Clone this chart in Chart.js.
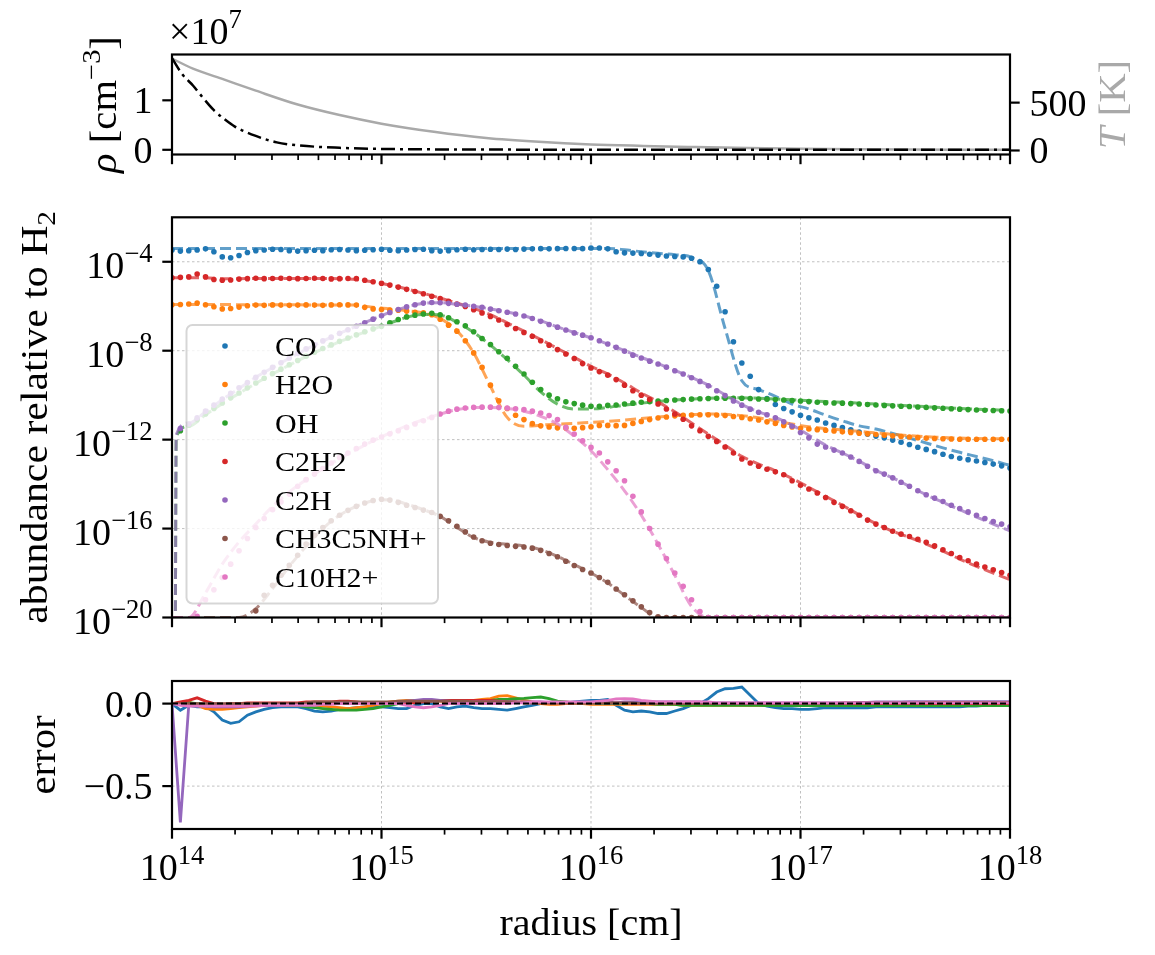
<!DOCTYPE html>
<html>
<head>
<meta charset="utf-8">
<script src="https://cdn.jsdelivr.net/npm/chart.js@4.4.1/dist/chart.umd.min.js"></script>
<style>
  body { margin: 0; background: #fff; width: 1155px; height: 955px; overflow: hidden; position: relative; }
  canvas { position: absolute; left: 0; }
</style>
</head>
<body>
<canvas id="topChart" width="1155" height="190" style="top:0px"></canvas>
<canvas id="midChart" width="1155" height="460" style="top:190px"></canvas>
<canvas id="botChart" width="1155" height="305" style="top:650px"></canvas>
<script>
// rayon (log10 cm) de la grille des abondances et des erreurs
const logR = [
  14.00,14.04,14.08,14.12,14.16,14.20,14.24,14.28,14.32,14.36,
  14.40,14.44,14.48,14.52,14.56,14.60,14.64,14.68,14.72,14.76,
  14.80,14.84,14.88,14.92,14.96,15.00,15.04,15.08,15.12,15.16,
  15.20,15.24,15.28,15.32,15.36,15.40,15.44,15.48,15.52,15.56,
  15.60,15.64,15.68,15.72,15.76,15.80,15.84,15.88,15.92,15.96,
  16.00,16.04,16.08,16.12,16.16,16.20,16.24,16.28,16.32,16.36,
  16.40,16.44,16.48,16.52,16.56,16.60,16.64,16.68,16.72,16.76,
  16.80,16.84,16.88,16.92,16.96,17.00,17.04,17.08,17.12,17.16,
  17.20,17.24,17.28,17.32,17.36,17.40,17.44,17.48,17.52,17.56,
  17.60,17.64,17.68,17.72,17.76,17.80,17.84,17.88,17.92,17.96,
  18.00
];
// rayon (log10 cm) des courbes du modele (tirets)
const modelLogR = [
  14.00,14.015,14.02,14.08,14.16,14.24,14.32,14.40,14.48,14.56,14.64,
  14.72,14.80,14.88,14.96,15.04,15.12,15.20,15.28,15.36,15.44,
  15.52,15.60,15.68,15.76,15.84,15.92,16.00,16.08,16.16,16.24,
  16.32,16.40,16.48,16.56,16.64,16.72,16.80,16.88,16.96,17.04,
  17.12,17.20,17.28,17.36,17.44,17.52,17.60,17.68,17.76,17.84,
  17.92,18.00
];

const species = ['CO', 'H2O', 'OH', 'C2H2', 'C2H', 'CH3C5NH+', 'C10H2+'];
const colors = ['#1f77b4', '#ff7f0e', '#2ca02c', '#d62728', '#9467bd', '#8c564b', '#e377c2'];

// abondances mesurees (log10), points
const abundCO = [
  -3.47,-3.52,-3.50,-3.47,-3.42,-3.55,-3.78,-3.82,-3.72,-3.58,
  -3.50,-3.47,-3.44,-3.45,-3.50,-3.52,-3.50,-3.48,-3.50,-3.46,
  -3.45,-3.47,-3.50,-3.48,-3.46,-3.44,-3.48,-3.50,-3.47,-3.45,
  -3.44,-3.50,-3.52,-3.50,-3.46,-3.44,-3.46,-3.45,-3.44,-3.45,
  -3.43,-3.45,-3.43,-3.42,-3.41,-3.42,-3.41,-3.40,-3.40,-3.41,
  -3.38,-3.38,-3.42,-3.55,-3.60,-3.61,-3.63,-3.66,-3.70,-3.74,
  -3.76,-3.78,-3.84,-4.00,-4.35,-5.10,-6.25,-7.60,-8.55,-9.15,
  -9.75,-10.15,-10.42,-10.60,-10.75,-10.90,-11.02,-11.12,-11.25,-11.36,
  -11.46,-11.56,-11.66,-11.76,-11.84,-11.92,-12.02,-12.12,-12.22,-12.34,
  -12.44,-12.54,-12.66,-12.76,-12.84,-12.90,-12.96,-13.03,-13.10,-13.18,
  -13.28
];
const abundH2O = [
  -5.93,-5.92,-5.90,-5.86,-5.93,-6.02,-6.12,-6.10,-6.04,-5.98,
  -5.95,-5.96,-5.94,-5.95,-5.96,-5.95,-5.94,-5.95,-5.96,-5.94,
  -5.93,-5.94,-5.95,-6.05,-6.12,-6.15,-6.17,-6.18,-6.22,-6.27,
  -6.30,-6.38,-6.58,-6.85,-7.12,-7.55,-8.10,-8.75,-9.55,-10.25,
  -10.60,-10.90,-11.10,-11.28,-11.38,-11.43,-11.47,-11.48,-11.49,-11.46,
  -11.42,-11.36,-11.36,-11.37,-11.36,-11.27,-11.18,-11.10,-11.03,-10.98,
  -10.93,-10.91,-10.89,-10.88,-10.88,-10.89,-10.92,-10.96,-11.00,-11.06,
  -11.12,-11.20,-11.27,-11.36,-11.43,-11.49,-11.52,-11.55,-11.58,-11.61,
  -11.65,-11.68,-11.71,-11.74,-11.77,-11.80,-11.83,-11.86,-11.88,-11.91,
  -11.93,-11.95,-11.96,-11.97,-11.98,-11.98,-11.98,-11.98,-11.98,-11.98,
  -11.98
];
const abundOH = [
  null,-11.60,-11.35,-11.10,-10.85,-10.60,-10.35,-10.12,-9.90,-9.67,
  -9.45,-9.24,-9.03,-8.83,-8.63,-8.44,-8.25,-8.07,-7.90,-7.74,
  -7.58,-7.43,-7.29,-7.15,-7.02,-6.90,-6.75,-6.60,-6.48,-6.40,
  -6.35,-6.32,-6.38,-6.52,-6.70,-6.88,-7.15,-7.45,-7.72,-8.05,
  -8.34,-8.70,-9.05,-9.42,-9.75,-10.00,-10.16,-10.30,-10.38,-10.45,
  -10.50,-10.50,-10.46,-10.44,-10.40,-10.36,-10.32,-10.29,-10.26,-10.24,
  -10.22,-10.20,-10.18,-10.16,-10.15,-10.14,-10.14,-10.14,-10.14,-10.15,
  -10.17,-10.18,-10.20,-10.22,-10.24,-10.26,-10.29,-10.32,-10.34,-10.35,
  -10.36,-10.38,-10.40,-10.42,-10.44,-10.46,-10.48,-10.50,-10.51,-10.53,
  -10.55,-10.57,-10.59,-10.61,-10.63,-10.65,-10.67,-10.68,-10.69,-10.70,
  -10.71
];
const abundC2H2 = [
  -4.72,-4.70,-4.68,-4.55,-4.68,-4.80,-4.83,-4.82,-4.78,-4.76,
  -4.74,-4.76,-4.75,-4.74,-4.75,-4.76,-4.75,-4.74,-4.75,-4.77,
  -4.76,-4.75,-4.76,-4.83,-4.90,-4.97,-5.05,-5.14,-5.24,-5.34,
  -5.44,-5.55,-5.66,-5.78,-5.90,-6.01,-6.16,-6.30,-6.46,-6.62,
  -6.82,-7.00,-7.18,-7.35,-7.55,-7.75,-7.95,-8.15,-8.35,-8.58,
  -8.78,-8.94,-9.10,-9.30,-9.55,-9.80,-10.00,-10.20,-10.40,-10.62,
  -10.85,-11.08,-11.38,-11.60,-11.85,-12.08,-12.33,-12.60,-12.87,-13.05,
  -13.20,-13.33,-13.45,-13.58,-13.85,-14.05,-14.22,-14.40,-14.60,-14.82,
  -15.00,-15.20,-15.40,-15.62,-15.80,-15.95,-16.12,-16.25,-16.36,-16.48,
  -16.62,-16.78,-16.95,-17.12,-17.30,-17.45,-17.60,-17.73,-17.85,-17.98,
  -18.10
];
const abundC2H = [
  null,-11.50,-11.30,-11.02,-10.72,-10.45,-10.18,-9.92,-9.67,-9.43,
  -9.20,-8.97,-8.75,-8.54,-8.33,-8.12,-7.92,-7.74,-7.56,-7.39,
  -7.22,-7.06,-6.90,-6.74,-6.58,-6.43,-6.28,-6.15,-6.03,-5.93,
  -5.86,-5.83,-5.84,-5.87,-5.91,-5.95,-6.00,-6.05,-6.13,-6.20,
  -6.27,-6.35,-6.44,-6.55,-6.68,-6.82,-6.94,-7.07,-7.20,-7.30,
  -7.42,-7.55,-7.70,-7.85,-8.02,-8.20,-8.33,-8.47,-8.60,-8.74,
  -8.90,-9.05,-9.22,-9.38,-9.58,-9.80,-10.02,-10.26,-10.45,-10.63,
  -10.77,-10.88,-11.02,-11.20,-11.40,-11.68,-11.92,-12.20,-12.33,-12.47,
  -12.60,-12.78,-12.98,-13.20,-13.40,-13.55,-13.72,-13.92,-14.10,-14.30,
  -14.48,-14.63,-14.78,-14.95,-15.10,-15.25,-15.40,-15.55,-15.68,-15.80,
  -15.92
];
const abundCH3C5NH = [
  null,null,null,null,null,null,null,null,null,null,
  -19.70,-19.00,-18.55,-18.10,-17.65,-17.20,-16.70,-16.30,-15.95,-15.65,
  -15.40,-15.18,-15.00,-14.85,-14.74,-14.68,-14.72,-14.82,-14.95,-15.05,
  -15.17,-15.28,-15.45,-15.65,-15.90,-16.15,-16.38,-16.55,-16.66,-16.72,
  -16.76,-16.80,-16.83,-16.88,-16.98,-17.12,-17.27,-17.47,-17.66,-17.84,
  -18.00,-18.20,-18.42,-18.72,-18.98,-19.25,-19.52,-19.78,-19.97,-20,
  -20,-20,-20,-20,-20,-20,-20,-20,-20,-20,
  -20,-20,-20,-20,-20,-20,-20,-20,-20,-20,
  -20,-20,-20,-20,-20,-20,-20,-20,-20,-20,
  -20,-20,-20,-20,-20,-20,-20,-20,-20,-20,
  -20
];
const abundC10H2 = [
  null,null,null,-19.95,-19.20,-18.75,-18.20,-17.60,-17.00,-16.45,
  -15.95,-15.55,-15.15,-14.80,-14.45,-14.10,-13.80,-13.55,-13.30,-13.05,
  -12.80,-12.60,-12.40,-12.20,-12.02,-11.88,-11.74,-11.60,-11.45,-11.30,
  -11.15,-11.00,-10.85,-10.72,-10.63,-10.58,-10.55,-10.54,-10.54,-10.56,
  -10.58,-10.61,-10.65,-10.72,-10.80,-10.92,-11.10,-11.45,-11.75,-12.05,
  -12.35,-12.60,-13.00,-13.40,-13.85,-14.55,-15.25,-16.00,-16.70,-17.35,
  -18.00,-18.60,-19.20,-19.73,-20,-20,-20,-20,-20,-20,
  -20,-20,-20,-20,-20,-20,-20,-20,-20,-20,
  -20,-20,-20,-20,-20,-20,-20,-20,-20,-20,
  -20,-20,-20,-20,-20,-20,-20,-20,-20,-20,
  -20
];

// modele (log10), tirets
const modelCO = [
  -3.40,-3.40,-3.40,-3.40,-3.40,-3.40,-3.40,-3.40,-3.40,-3.40,-3.40,
  -3.40,-3.40,-3.40,-3.40,-3.40,-3.40,-3.40,-3.40,-3.40,-3.40,
  -3.40,-3.40,-3.40,-3.40,-3.40,-3.40,-3.40,-3.40,-3.46,-3.55,
  -3.62,-3.68,-3.80,-4.40,-7.00,-9.35,-9.75,-10.05,-10.40,-10.62,
  -10.90,-11.15,-11.38,-11.52,-11.72,-11.93,-12.15,-12.37,-12.57,-12.76,
  -12.95,-13.16
];
const modelH2O = [
  -5.92,-5.92,-5.92,-5.92,-5.92,-5.92,-5.93,-5.93,-5.93,-5.93,-5.94,
  -5.94,-5.94,-5.95,-6.05,-6.12,-6.20,-6.30,-6.55,-7.10,-8.10,
  -9.60,-11.00,-11.40,-11.35,-11.30,-11.27,-11.22,-11.18,-11.12,-11.05,
  -10.98,-10.92,-10.87,-10.85,-10.86,-10.92,-11.02,-11.15,-11.30,-11.42,
  -11.50,-11.57,-11.63,-11.70,-11.76,-11.82,-11.87,-11.90,-11.93,-11.95,
  -11.96,-11.97
];
const modelOH = [
  -21,-21,-11.90,-11.40,-10.88,-10.38,-9.92,-9.47,-9.05,-8.65,-8.27,
  -7.92,-7.60,-7.30,-7.03,-6.76,-6.50,-6.37,-6.40,-6.72,-7.18,
  -7.75,-8.40,-9.10,-9.85,-10.40,-10.62,-10.62,-10.55,-10.45,-10.36,
  -10.28,-10.22,-10.18,-10.14,-10.12,-10.12,-10.14,-10.17,-10.21,-10.25,
  -10.29,-10.32,-10.36,-10.40,-10.44,-10.48,-10.52,-10.56,-10.60,-10.63,
  -10.66,-10.69
];
const modelC2H2 = [
  -4.72,-4.72,-4.72,-4.72,-4.72,-4.76,-4.76,-4.75,-4.75,-4.75,-4.75,
  -4.75,-4.76,-4.80,-4.90,-5.05,-5.22,-5.42,-5.63,-5.86,-6.10,
  -6.38,-6.75,-7.12,-7.50,-7.90,-8.30,-8.70,-9.05,-9.45,-9.90,
  -10.30,-10.75,-11.25,-11.75,-12.25,-12.75,-13.10,-13.40,-13.75,-14.15,
  -14.55,-14.95,-15.38,-15.78,-16.12,-16.40,-16.70,-17.02,-17.37,-17.70,
  -18.00,-18.30
];
const modelC2H = [
  -21,-21,-11.80,-11.25,-10.75,-10.20,-9.70,-9.20,-8.76,-8.34,-7.94,
  -7.57,-7.22,-6.90,-6.58,-6.28,-6.03,-5.87,-5.84,-5.91,-6.00,
  -6.12,-6.26,-6.43,-6.66,-6.93,-7.18,-7.42,-7.70,-8.00,-8.30,
  -8.58,-8.88,-9.20,-9.55,-9.98,-10.42,-10.75,-11.00,-11.35,-11.80,
  -12.25,-12.60,-12.97,-13.38,-13.72,-14.10,-14.48,-14.82,-15.15,-15.48,
  -15.80,-16.10
];
const modelCH3C5NH = [
  -20,-20,-20,-20,-20,-20,-20,-19.60,-18.70,-17.70,-16.80,
  -16.00,-15.40,-15.00,-14.75,-14.70,-14.90,-15.15,-15.45,-15.95,-16.40,
  -16.62,-16.70,-16.78,-16.95,-17.25,-17.62,-18.00,-18.45,-19.00,-19.55,
  -20,-20,-20,-20,-20,-20,-20,-20,-20,-20,
  -20,-20,-20,-20,-20,-20,-20,-20,-20,-20,
  -20,-20
];
const modelC10H2 = [
  -20,-20,-20,-20,-18.90,-17.60,-16.60,-15.80,-15.00,-14.35,-13.80,
  -13.30,-12.85,-12.45,-12.05,-11.70,-11.38,-11.10,-10.85,-10.65,-10.56,
  -10.55,-10.60,-10.72,-10.95,-11.30,-11.85,-12.50,-13.35,-14.30,-15.40,
  -16.70,-18.10,-19.50,-20,-20,-20,-20,-20,-20,-20,
  -20,-20,-20,-20,-20,-20,-20,-20,-20,-20,
  -20,-20
];

// erreur relative (panneau du bas)
const errCO = [
  0,-0.04,-0.01,-0.02,-0.02,-0.05,-0.10,-0.12,-0.11,-0.07,
  -0.05,-0.035,-0.025,-0.02,-0.02,-0.02,-0.03,-0.045,-0.05,-0.045,
  -0.035,-0.03,-0.025,-0.02,-0.02,-0.02,-0.025,-0.03,-0.03,-0.01,
  0,0,-0.02,-0.03,-0.02,-0.015,-0.025,-0.03,-0.03,-0.035,
  -0.04,-0.03,-0.02,-0.01,0,0,0,0.005,0.01,0.015,
  0.02,0.02,0.025,-0.01,-0.04,-0.05,-0.045,-0.05,-0.06,-0.06,
  -0.045,-0.03,-0.01,0,0.03,0.07,0.09,0.092,0.10,0.05,
  0,-0.015,-0.025,-0.03,-0.03,-0.035,-0.035,-0.03,-0.025,-0.025,
  -0.025,-0.025,-0.025,-0.025,-0.02,-0.02,-0.02,-0.02,-0.02,-0.02,
  -0.02,-0.02,-0.02,-0.02,-0.02,-0.015,-0.015,-0.01,-0.01,-0.005,
  -0.005
];
const errH2O = [
  0,0.005,0.01,-0.01,-0.03,-0.035,-0.035,-0.03,-0.025,-0.02,
  -0.015,-0.01,-0.01,-0.01,-0.01,-0.01,-0.01,-0.01,-0.015,-0.02,
  -0.025,-0.03,-0.025,-0.02,-0.01,0,0.01,0.015,0.02,0.02,
  0.02,0.02,0.015,0.01,0.01,0.015,0.02,0.025,0.03,0.045,
  0.048,0.035,0.02,0.01,0,-0.005,-0.005,0,0,0,
  -0.005,-0.005,-0.005,-0.005,-0.005,-0.005,-0.005,-0.005,-0.005,-0.005,
  -0.005,-0.01,-0.01,-0.01,-0.01,-0.01,-0.01,-0.01,-0.01,-0.01,
  -0.01,-0.01,-0.01,-0.01,-0.01,-0.01,-0.005,-0.005,-0.005,-0.005,
  -0.005,-0.005,-0.005,-0.005,-0.005,-0.005,-0.005,-0.005,-0.005,-0.005,
  0,0,0,0,0,0,0,0,0,0,
  0
];
const errOH = [
  0,0,0.005,0,-0.005,-0.01,-0.01,-0.01,-0.01,-0.01,
  -0.01,-0.01,-0.01,-0.01,-0.01,-0.01,-0.02,-0.025,-0.03,-0.035,
  -0.04,-0.04,-0.04,-0.035,-0.03,-0.02,-0.01,0,0.01,0.015,
  0.02,0.02,0.02,0.02,0.015,0.01,0.015,0.02,0.02,0.025,
  0.025,0.03,0.032,0.036,0.04,0.03,0.015,0.01,0.005,0.005,
  0.005,0,0,0,0,0,0,0,-0.005,-0.005,
  -0.005,-0.01,-0.01,-0.01,-0.01,-0.01,-0.01,-0.01,-0.01,-0.01,
  -0.01,-0.012,-0.012,-0.012,-0.012,-0.012,-0.012,-0.012,-0.012,-0.012,
  -0.012,-0.012,-0.012,-0.012,-0.012,-0.012,-0.012,-0.012,-0.012,-0.012,
  -0.012,-0.012,-0.012,-0.012,-0.012,-0.012,-0.012,-0.012,-0.012,-0.012,
  -0.012
];
const errC2H2 = [
  0,0.01,0.02,0.035,0.015,0,-0.005,0,0,0.005,
  0.005,0.005,0.005,0.005,0.005,0.005,0.01,0.01,0.01,0.01,
  0.015,0.015,0.01,0.005,0,0.005,0.005,0.005,0.005,0.005,
  0.01,0.015,0.02,0.02,0.02,0.02,0.02,0.02,0.02,0.015,
  0.01,0.01,0.005,0.005,0.005,0.005,0.005,0.005,0.005,0.005,
  0.005,0.005,0.005,0.005,0.005,0,0,0,0,0,
  0,0,0,0,0,0,0,0,0,0,
  0,0,0,0,0,0,0,0,0,0,
  0,0,0,0,0,0,0,0,0,0,
  0,0,0,0,0,0,0,0,0,0,
  0
];
const errC2H = [
  0,-0.72,-0.01,-0.01,-0.015,-0.02,-0.02,-0.02,-0.02,-0.015,
  -0.01,-0.01,-0.01,-0.01,-0.005,-0.005,0,0,0,0,
  0,0,0,0,0,0,0.005,0.01,0.015,0.02,
  0.025,0.026,0.02,0.015,0.01,0.01,0.01,0.01,0.01,0.01,
  0.01,0.01,0.01,0.01,0.01,0.005,0.005,0.005,0.005,0.005,
  0.005,0.005,0.005,0.005,0.01,0.01,0.01,0.01,0.01,0.01,
  0.01,0.01,0.01,0.01,0.005,0.005,0.005,0.005,0.005,0.005,
  0.005,0.005,0.005,0.005,0.005,0.005,0.005,0.005,0.005,0.005,
  0.005,0.005,0.008,0.008,0.01,0.01,0.01,0.01,0.012,0.012,
  0.012,0.012,0.012,0.012,0.012,0.012,0.012,0.012,0.012,0.012,
  0.012
];
const errCH3C5NH = [
  0,0,0,0,0,0,0,0,0,0,
  0,0,0,0,0,0,0.005,0.01,0.01,0.01,
  0.01,0.01,0.01,0.01,0.01,0.01,0.01,0.015,0.015,0.015,
  0.015,0.015,0.015,0.015,0.015,0.015,0.01,0.01,0.01,0.01,
  0.01,0.01,0.005,0.005,0.005,0.005,0.005,0.005,0.005,0.005,
  0.005,0.005,0.005,0.005,0.005,0.005,0,0,0,0,
  0,0,0,0,0,0,0,0,0,0,
  0,0,0,0,0,0,0,0,0,0,
  0.005,0.005,0.005,0.005,0.005,0.005,0.005,0.005,0.005,0.005,
  0.008,0.008,0.008,0.008,0.008,0.008,0.008,0.008,0.008,0.008,
  0.008
];
const errC10H2 = [
  0,-0.01,-0.015,-0.015,-0.015,-0.015,-0.015,-0.015,-0.015,-0.015,
  -0.015,-0.01,-0.01,-0.01,-0.01,-0.01,-0.01,-0.01,-0.005,-0.005,
  0,0,0,0,0,0,0,0,-0.01,-0.02,
  -0.025,-0.02,-0.01,0,0,0,0,0,0,0,
  0,0.005,0.005,0.01,0.01,0.01,0.01,0.01,0.01,0.01,
  0.01,0.015,0.02,0.028,0.03,0.028,0.02,0.015,0.01,0.01,
  0.01,0.01,0.01,0.01,0.01,0.005,0.005,0.005,0.005,0.005,
  0.005,0.005,0.005,0.005,0.005,0.005,0.005,0.005,0.005,0.005,
  0.005,0.005,0.005,0.005,0.005,0.005,0.005,0.005,0.005,0.005,
  0.005,0.005,0.005,0.005,0.005,0.005,0.005,0.005,0.005,0.005,
  0.005
];

// profil physique (panneau du haut)
const rhoLogR = [14.00,14.05,14.10,14.15,14.20,14.25,14.30,14.40,14.50,14.60,14.80,15.00,15.50,16.00,16.50,17.00,17.50,18.00];
const rhoDensity = [1.85e7,1.52e7,1.30e7,1.04e7,0.80e7,0.62e7,0.47e7,0.28e7,0.15e7,0.09e7,0.04e7,0.018e7,0.005e7,0.002e7,0.001e7,0.0005e7,0.0002e7,0.0001e7];
const tempLogR = [14.00,14.10,14.25,14.40,14.60,14.80,15.00,15.25,15.50,15.75,16.00,16.25,16.50,16.75,17.00,17.25,17.50,17.75,18.00];
const tempK = [961,855,740,625,480,370,280,195,130,90,63,48,36,25,18,13,10,8,7];

// graduations
const xMajorExp = [14, 15, 16, 17, 18];
const xMinorMult = [2, 3, 4, 5, 6, 7, 8, 9];
const abundTickExp = [-20, -16, -12, -8, -4];
const errTicks = [0, -0.5];
const errTickLabels = ['0.0', '\u22120.5'];
const rhoTicks = [0, 1e7];
const rhoTickLabels = ['0', '1'];
const tempTicks = [0, 500];
const tempTickLabels = ['0', '500'];

const abundances = [abundCO, abundH2O, abundOH, abundC2H2, abundC2H, abundCH3C5NH, abundC10H2];
const models = [modelCO, modelH2O, modelOH, modelC2H2, modelC2H, modelCH3C5NH, modelC10H2];
const errors = [errCO, errH2O, errOH, errC2H2, errC2H, errCH3C5NH, errC10H2];

const FONT = '"Liberation Serif", "Times New Roman", serif';
const TICK_SIZE = 38, LABEL_SIZE = 37, LEGEND_SIZE = 28;
const TICK_MAJOR = 9.7, TICK_MINOR = 5.6, TICK_PAD = 9.7;
const GRID_COLOR = 'rgba(176,176,176,0.8)';

const xTicks = [];
xMajorExp.forEach(e => {
    xTicks.push({ v: Math.pow(10, e), major: true });
    if (e < 18) xMinorMult.forEach(m => xTicks.push({ v: m * Math.pow(10, e), major: false }));
});

function rgba(hex, a) {
    const n = parseInt(hex.slice(1), 16);
    return `rgba(${(n >> 16) & 255},${(n >> 8) & 255},${n & 255},${a})`;
}

// texte avec exposants / indices
function drawRich(ctx, parts, x, y, opts) {
    const size = opts.size, sx = opts.stretch || 1;
    const fontOf = k => (k === 'i' ? 'italic ' : '') + ((k === 'sup' || k === 'sub') ? size * 0.7 : size) + 'px ' + FONT;
    let w = 0;
    parts.forEach(([t, k]) => { ctx.font = fontOf(k); w += ctx.measureText(t).width; });
    w *= sx;
    const x0 = opts.align === 'right' ? x - w : opts.align === 'center' ? x - w / 2 : x;
    ctx.save();
    ctx.translate(x0, y);
    ctx.scale(sx, 1);
    ctx.fillStyle = opts.color || '#000';
    ctx.textAlign = 'left';
    ctx.textBaseline = 'alphabetic';
    let cx = 0;
    parts.forEach(([t, k]) => {
        ctx.font = fontOf(k);
        const dy = k === 'sup' ? -size * 0.42 : k === 'sub' ? size * 0.22 : 0;
        ctx.fillText(t, cx, dy);
        cx += ctx.measureText(t).width;
    });
    ctx.restore();
}

function drawRotated(ctx, parts, bx, cy, opts) {
    ctx.save();
    ctx.translate(bx, cy);
    ctx.rotate(-Math.PI / 2);
    drawRich(ctx, parts, 0, 0, Object.assign({ align: 'center' }, opts));
    ctx.restore();
}

function drawFrame(ctx, a) {
    ctx.save();
    ctx.strokeStyle = '#000';
    ctx.lineWidth = 2.2;
    ctx.setLineDash([]);
    ctx.strokeRect(a.left, a.top, a.right - a.left, a.bottom - a.top);
    ctx.restore();
}

function drawXTicks(ctx, chart) {
    const a = chart.chartArea, sc = chart.scales.x;
    ctx.save();
    ctx.strokeStyle = '#000';
    xTicks.forEach(t => {
        const px = sc.getPixelForValue(t.v);
        ctx.lineWidth = t.major ? 2.2 : 1.7;
        ctx.beginPath();
        ctx.moveTo(px, a.bottom);
        ctx.lineTo(px, a.bottom + (t.major ? TICK_MAJOR : TICK_MINOR));
        ctx.stroke();
    });
    ctx.restore();
}

function drawYTicks(ctx, chart, scaleId, values, side) {
    const a = chart.chartArea, sc = chart.scales[scaleId];
    ctx.save();
    ctx.strokeStyle = '#000';
    ctx.lineWidth = 2.2;
    values.forEach(v => {
        const py = sc.getPixelForValue(v);
        ctx.beginPath();
        if (side === 'left') { ctx.moveTo(a.left - TICK_MAJOR, py); ctx.lineTo(a.left, py); }
        else { ctx.moveTo(a.right, py); ctx.lineTo(a.right + TICK_MAJOR, py); }
        ctx.stroke();
    });
    ctx.restore();
}

function drawGrid(ctx, chart, xs, ys) {
    const a = chart.chartArea;
    ctx.save();
    ctx.strokeStyle = GRID_COLOR;
    ctx.lineWidth = 1;
    ctx.setLineDash([2.5, 2.5]);
    ctx.beginPath();
    xs.forEach(v => { const px = chart.scales.x.getPixelForValue(v); ctx.moveTo(px, a.top); ctx.lineTo(px, a.bottom); });
    ys.forEach(v => { const py = chart.scales.y.getPixelForValue(v); ctx.moveTo(a.left, py); ctx.lineTo(a.right, py); });
    ctx.stroke();
    ctx.restore();
}

function drawLegend(ctx) {
    const L = { x: 186.5, y: 135, w: 251.5, h: 278.5, r: 6 };
    ctx.save();
    ctx.beginPath();
    if (ctx.roundRect) ctx.roundRect(L.x, L.y, L.w, L.h, L.r); else ctx.rect(L.x, L.y, L.w, L.h);
    ctx.fillStyle = 'rgba(255,255,255,0.8)';
    ctx.fill();
    ctx.strokeStyle = 'rgba(204,204,204,0.8)';
    ctx.lineWidth = 2;
    ctx.stroke();
    species.forEach((s, k) => {
        const cy = 156 + 38.5 * k;
        ctx.beginPath();
        ctx.arc(225, cy, 2.8, 0, 2 * Math.PI);
        ctx.fillStyle = colors[k];
        ctx.fill();
        drawRich(ctx, [[s, '']], 275, cy + 9.5, { size: LEGEND_SIZE, stretch: 1.07 });
    });
    ctx.restore();
}

const logX = { type: 'logarithmic', min: 1e14, max: 1e18, display: false };
const baseOptions = {
    responsive: false,
    devicePixelRatio: 1,
    animation: false,
    events: [],
    plugins: { legend: { display: false }, tooltip: { enabled: false } }
};

// ---------- panneau du haut : densite et temperature ----------
new Chart(document.getElementById('topChart'), {
    type: 'scatter',
    data: {
        datasets: [
            {
                data: tempLogR.map((r, i) => ({ x: Math.pow(10, r), y: tempK[i] })),
                yAxisID: 'y2', showLine: true, pointRadius: 0, cubicInterpolationMode: 'monotone',
                borderColor: '#a9a9a9', borderWidth: 2.5, clip: 0, order: 2
            },
            {
                data: rhoLogR.map((r, i) => ({ x: Math.pow(10, r), y: rhoDensity[i] })),
                yAxisID: 'y', showLine: true, pointRadius: 0, cubicInterpolationMode: 'monotone',
                borderColor: '#000', borderWidth: 2.5, borderDash: [14, 5, 3, 5], clip: 0, order: 1
            }
        ]
    },
    options: Object.assign({}, baseOptions, {
        layout: { autoPadding: false, padding: { left: 172, right: 145, top: 54.5, bottom: 35.5 } },
        scales: {
            x: logX,
            y: { type: 'linear', min: -0.095e7, max: 1.926e7, display: false },
            y2: { type: 'linear', min: -42, max: 1003, display: false }
        }
    }),
    plugins: [{
        id: 'decorTop',
        afterDatasetsDraw(chart) {
            const ctx = chart.ctx, a = chart.chartArea;
            drawFrame(ctx, a);
            drawXTicks(ctx, chart);
            drawYTicks(ctx, chart, 'y', rhoTicks, 'left');
            drawYTicks(ctx, chart, 'y2', tempTicks, 'right');
            rhoTicks.forEach((v, i) => drawRich(ctx, [[rhoTickLabels[i], '']], a.left - TICK_MAJOR - TICK_PAD,
                chart.scales.y.getPixelForValue(v) + 13, { size: TICK_SIZE, align: 'right' }));
            tempTicks.forEach((v, i) => drawRich(ctx, [[tempTickLabels[i], '']], a.right + TICK_MAJOR + TICK_PAD,
                chart.scales.y2.getPixelForValue(v) + 13, { size: TICK_SIZE, align: 'left' }));
            drawRich(ctx, [['\u00d710', ''], ['7', 'sup']], a.left - 3, 44, { size: 38 });
            const cy = (a.top + a.bottom) / 2;
            drawRotated(ctx, [['\u03c1', 'i'], [' [cm', ''], ['\u22123', 'sup'], [']', '']], 116, cy,
                { size: LABEL_SIZE, stretch: 1.1 });
            drawRotated(ctx, [['T', 'i'], [' [K]', '']], 1125, cy,
                { size: LABEL_SIZE, stretch: 1.1, color: '#a9a9a9' });
        }
    }]
});

// ---------- panneau central : abondances ----------
const midDatasets = [];
species.forEach((s, k) => {
    midDatasets.push({
        label: s + ' model',
        data: modelLogR.map((r, j) => ({ x: Math.pow(10, r), y: Math.pow(10, models[k][j]) })),
        showLine: true, pointRadius: 0, cubicInterpolationMode: 'monotone',
        borderColor: rgba(colors[k], 0.7), borderWidth: 3, borderDash: [11, 5],
        clip: 0, order: -(2 * k)
    });
    midDatasets.push({
        label: s,
        data: logR.map((r, i) => abundances[k][i] == null ? null : { x: Math.pow(10, r), y: Math.pow(10, abundances[k][i]) })
            .filter(p => p !== null),
        showLine: false, pointRadius: 2.8, pointBorderWidth: 0,
        backgroundColor: colors[k], borderColor: colors[k],
        clip: 0, order: -(2 * k + 1)
    });
});

new Chart(document.getElementById('midChart'), {
    type: 'scatter',
    data: { datasets: midDatasets },
    options: Object.assign({}, baseOptions, {
        layout: { autoPadding: false, padding: { left: 172, right: 145, top: 27.3, bottom: 32.5 } },
        scales: {
            x: logX,
            y: { type: 'logarithmic', min: 1e-20, max: 1e-2, display: false }
        }
    }),
    plugins: [{
        id: 'decorMid',
        beforeDatasetsDraw(chart) {
            drawGrid(chart.ctx, chart, [1e15, 1e16, 1e17], [1e-16, 1e-12, 1e-8, 1e-4]);
        },
        afterDatasetsDraw(chart) {
            const ctx = chart.ctx, a = chart.chartArea;
            drawLegend(ctx);
            drawFrame(ctx, a);
            drawXTicks(ctx, chart);
            drawYTicks(ctx, chart, 'y', abundTickExp.map(e => Math.pow(10, e)), 'left');
            abundTickExp.forEach(e => {
                const py = chart.scales.y.getPixelForValue(Math.pow(10, e));
                drawRich(ctx, [['10', ''], ['\u2212' + Math.abs(e), 'sup']], a.left - TICK_MAJOR - TICK_PAD, py + 16,
                    { size: TICK_SIZE, align: 'right' });
            });
            drawRotated(ctx, [['abundance relative to H', ''], ['2', 'sub']], 47, (a.top + a.bottom) / 2,
                { size: LABEL_SIZE, stretch: 1.13 });
        }
    }]
});

// ---------- panneau du bas : erreur ----------
const errorRef = 0;
const botDatasets = species.map((s, k) => ({
    label: s + ' error',
    data: logR.map((r, i) => ({ x: Math.pow(10, r), y: errors[k][i] })),
    showLine: true, pointRadius: 0,
    borderColor: colors[k], borderWidth: 2.8,
    clip: 0, order: -k
}));
botDatasets.push({
    label: 'zero',
    data: [{ x: logX.min, y: errorRef }, { x: logX.max, y: errorRef }],
    showLine: true, pointRadius: 0,
    borderColor: '#000', borderWidth: 2, borderDash: [6, 3],
    clip: 0, order: -10
});

new Chart(document.getElementById('botChart'), {
    type: 'scatter',
    data: { datasets: botDatasets },
    options: Object.assign({}, baseOptions, {
        layout: { autoPadding: false, padding: { left: 172, right: 145, top: 31, bottom: 126 } },
        scales: {
            x: logX,
            y: { type: 'linear', min: -0.76, max: 0.137, display: false }
        }
    }),
    plugins: [{
        id: 'decorBot',
        beforeDatasetsDraw(chart) {
            drawGrid(chart.ctx, chart, [1e15, 1e16, 1e17], [-0.5]);
        },
        afterDatasetsDraw(chart) {
            const ctx = chart.ctx, a = chart.chartArea;
            drawFrame(ctx, a);
            drawXTicks(ctx, chart);
            drawYTicks(ctx, chart, 'y', errTicks, 'left');
            errTicks.forEach((v, i) => drawRich(ctx, [[errTickLabels[i], '']], a.left - TICK_MAJOR - TICK_PAD,
                chart.scales.y.getPixelForValue(v) + 13, { size: TICK_SIZE, align: 'right' }));
            xMajorExp.forEach(e => {
                const px = chart.scales.x.getPixelForValue(Math.pow(10, e));
                drawRich(ctx, [['10', ''], [String(e), 'sup']], px, a.bottom + 51, { size: TICK_SIZE, align: 'center' });
            });
            drawRich(ctx, [['radius [cm]', '']], (a.left + a.right) / 2, a.bottom + 106,
                { size: LABEL_SIZE, align: 'center', stretch: 1.08 });
            drawRotated(ctx, [['error', '']], 55, (a.top + a.bottom) / 2,
                { size: LABEL_SIZE, stretch: 1.1 });
        }
    }]
});
</script>
</body>
</html>
